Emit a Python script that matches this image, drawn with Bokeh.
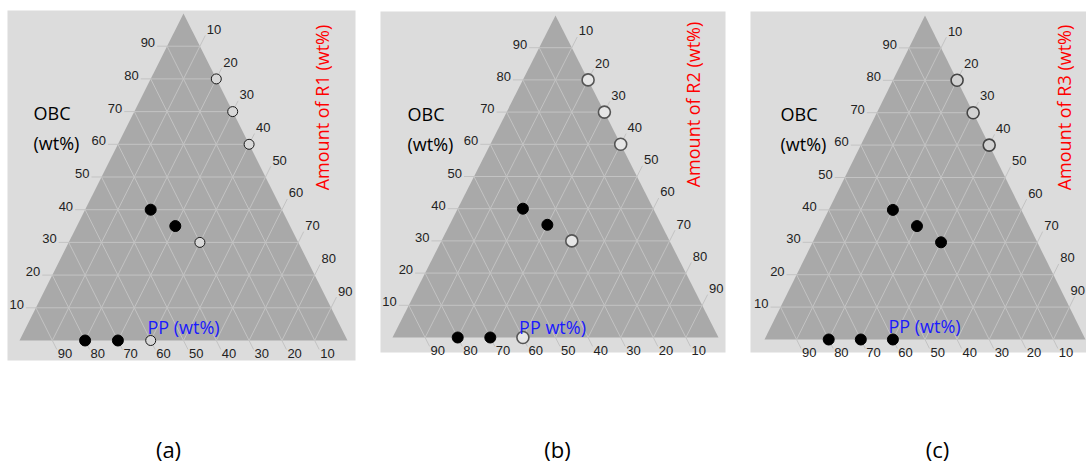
import math
from bokeh.plotting import figure
from bokeh.models import Range1d, Label
from bokeh.embed import file_html
from bokeh.resources import INLINE
from bokeh.core.properties import value

PAGE_W, PAGE_H = 1086, 462

# ---- data -------------------------------------------------------------
tick_values = [10, 20, 30, 40, 50, 60, 70, 80, 90]
tick_labels = [str(t) for t in tick_values]

# blend compositions (wt%): PP, recycled resin, OBC
pp_wt = [0, 0, 0, 40, 35, 30, 80, 70, 60]
resin_wt = [20, 30, 40, 20, 30, 40, 20, 30, 40]
obc_wt = [80, 70, 60, 40, 35, 30, 0, 0, 0]

# which blends are drawn as solid dots in each diagram
solid_a = [False, False, False, True, True, False, True, True, False]
solid_b = [False, False, False, True, True, False, True, True, False]
solid_c = [False, False, False, True, True, True, True, True, True]

resin_titles = ["Amount of R1 (wt%)", "Amount of R2 (wt%)", "Amount of R3 (wt%)"]
pp_titles = ["PP (wt%)", "PP wt%)", "PP (wt%)"]
obc_title = ["OBC", "(wt%)"]
panel_tags = ["(a)", "(b)", "(c)"]

# ---- layout (page pixels, origin top-left) ----------------------------
panels = [
    dict(box=(7, 10, 355, 360), xl=19, xr=347, yb=340, yt=13,
         obc_xy=(33, 112), res_xy=(321, 107), pp_xy=(183, 326), tag_x=168,
         solid=solid_a, hollow=dict(size=10, line_color="#1a1a1a", line_width=1.0, fill_color="#d8d8d8")),
    dict(box=(380, 11, 725, 352), xl=392, xr=718, yb=337, yt=15,
         obc_xy=(407, 113), res_xy=(692, 104), pp_xy=(552, 326), tag_x=557,
         solid=solid_b, hollow=dict(size=12, line_color="#555555", line_width=1.6, fill_color="#e6e6e6")),
    dict(box=(750, 11, 1086, 352), xl=764, xr=1085, yb=339, yt=15,
         obc_xy=(780, 113), res_xy=(1063, 107), pp_xy=(924, 325), tag_x=937,
         solid=solid_c, hollow=dict(size=12, line_color="#444444", line_width=1.6, fill_color="#d2d2d2")),
]


def Y(y):
    return PAGE_H - y


p = figure(width=PAGE_W, height=PAGE_H, output_backend="svg", toolbar_location=None,
           x_range=Range1d(0, PAGE_W), y_range=Range1d(0, PAGE_H), min_border=0)
p.axis.visible = False
p.grid.visible = False
p.outline_line_color = None
p.background_fill_color = "white"
p.border_fill_color = "white"

TICK_FONT = value("Liberation Sans")
GRID = "#c3c3c3"

for i, g in enumerate(panels):
    x0, y0, x1, y1 = g["box"]
    p.quad(left=[x0], right=[x1], top=[Y(y0)], bottom=[Y(y1)], fill_color="#dcdcdc", line_color=None)

    xl, xr, yb, yt = g["xl"], g["xr"], g["yb"], g["yt"]
    W, H = xr - xl, yb - yt

    def tern(pp, r, o):
        return xl + W * (r + o / 2.0) / 100.0, yb - H * o / 100.0

    # triangle body
    ax, ay = tern(0, 0, 100)
    p.patch([xl, xr, ax], [Y(yb), Y(yb), Y(ay)], fill_color="#a9a9a9", line_color=None)

    # unit vectors along the left edge (upwards) and right edge (downwards)
    n = math.hypot(W / 2.0, H)
    ul = (W / 2.0 / n, -H / n)
    ur = (W / 2.0 / n, H / n)

    gx, gy = [], []
    lx, ly, ltxt = [], [], []
    rx, ry, rtxt = [], [], []
    bx, by, btxt = [], [], []
    for k, lab in zip(tick_values, tick_labels):
        # constant OBC: horizontal, plus tick out to the left
        a = tern(100 - k, 0, k)
        b = tern(0, 100 - k, k)
        gx.append([a[0] - 10, b[0]]); gy.append([Y(a[1]), Y(b[1])])
        lx.append(a[0] - 12); ly.append(Y(a[1] - 3.5)); ltxt.append(lab)
        # constant resin: parallel to left edge, tick out past right edge
        a = tern(100 - k, k, 0)
        b = tern(0, k, 100 - k)
        e = (b[0] + 12 * ul[0], b[1] + 12 * ul[1])
        gx.append([a[0], e[0]]); gy.append([Y(a[1]), Y(e[1])])
        # keep the label inside the page
        rx.append(min(e[0] + 1.5, PAGE_W - 16)); ry.append(Y(e[1] - 6)); rtxt.append(lab)
        # constant PP: parallel to right edge, tick out below the base
        a = tern(k, 0, 100 - k)
        b = tern(k, 100 - k, 0)
        e = (b[0] + 10 * ur[0], b[1] + 10 * ur[1])
        gx.append([a[0], e[0]]); gy.append([Y(a[1]), Y(e[1])])
        bx.append(e[0] + 1); by.append(Y(e[1] + 4.5)); btxt.append(lab)

    p.multi_line(gx, gy, line_color=GRID, line_width=1)

    for xs, ys, ts, align in ((lx, ly, ltxt, "right"), (rx, ry, rtxt, "left"), (bx, by, btxt, "left")):
        p.text(x=xs, y=ys, text=ts, text_font=TICK_FONT, text_font_size="13px",
               text_color="#222222", text_align=align, text_baseline="middle")

    # blends
    px, py = [], []
    for a_, r_, o_ in zip(pp_wt, resin_wt, obc_wt):
        cx, cy = tern(a_, r_, o_)
        px.append(cx); py.append(Y(cy))
    solid = g["solid"]
    sx = [x for x, s in zip(px, solid) if s]
    sy = [y for y, s in zip(py, solid) if s]
    hx = [x for x, s in zip(px, solid) if not s]
    hy = [y for y, s in zip(py, solid) if not s]
    hs = g["hollow"]
    p.scatter(hx, hy, marker="circle", size=hs["size"], fill_color=hs["fill_color"],
              line_color=hs["line_color"], line_width=hs["line_width"])
    p.scatter(sx, sy, marker="circle", size=11, fill_color="black", line_color="black")

    # axis titles
    ox, oy = g["obc_xy"]
    p.add_layout(Label(x=ox, y=Y(oy), text=obc_title[0], text_font="Open Sans", text_font_size="18px",
                       text_color="black", text_baseline="middle", text_align="left"))
    p.add_layout(Label(x=ox, y=Y(oy + 30), text=obc_title[1], text_font="Open Sans", text_font_size="18px",
                       text_color="black", text_baseline="middle", text_align="left"))
    rx_, ry_ = g["res_xy"]
    p.add_layout(Label(x=rx_, y=Y(ry_), text=resin_titles[i], text_font="Open Sans", text_font_size="18px",
                       text_color="#ff0000", text_baseline="middle", text_align="center", angle=math.pi / 2))
    qx, qy = g["pp_xy"]
    p.add_layout(Label(x=qx, y=Y(qy), text=pp_titles[i], text_font="Open Sans", text_font_size="18px",
                       text_color="#1a1aff", text_baseline="middle", text_align="center"))
    p.add_layout(Label(x=g["tag_x"], y=Y(448), text=panel_tags[i], text_font="Open Sans", text_font_size="22px",
                       text_color="black", text_baseline="middle", text_align="center"))

open("out.html", "w").write(file_html(p, INLINE))
